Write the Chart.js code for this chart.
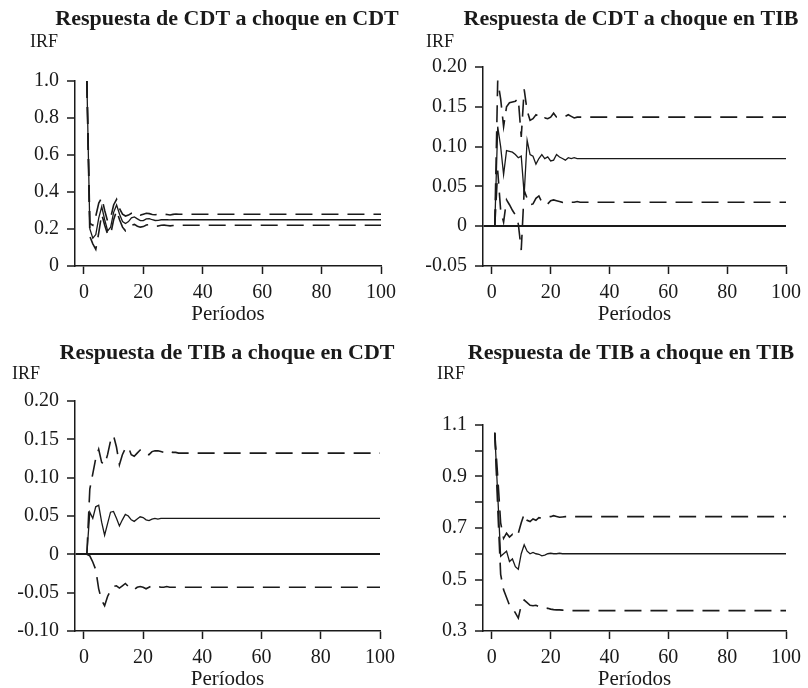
<!DOCTYPE html>
<html>
<head>
<meta charset="utf-8">
<style>
  body { margin: 0; background: #fff; }
  .panel { position: absolute; width: 404px; height: 344px; }
</style>
</head>
<body>
<div class="panel" style="left:0;top:0"><canvas id="c1" width="404" height="344"></canvas></div>
<div class="panel" style="left:404px;top:0"><canvas id="c2" width="404" height="344"></canvas></div>
<div class="panel" style="left:0;top:344px"><canvas id="c3" width="404" height="344"></canvas></div>
<div class="panel" style="left:404px;top:344px"><canvas id="c4" width="404" height="344"></canvas></div>
<script src="https://cdn.jsdelivr.net/npm/chart.js"></script>
<script>
const periods = [1, 2, 3, 4, 5, 6, 7, 8, 9, 10, 11, 12, 13, 14, 15, 16, 17, 18, 19, 20,
  21, 22, 23, 24, 25, 26, 27, 28, 29, 30, 31, 32, 100];
const xTicks = [0, 20, 40, 60, 80, 100];

// Respuesta de CDT a choque en CDT
const cdtCdtUp = [1.0, 0.23, 0.22, 0.27, 0.34, 0.37, 0.30, 0.24, 0.26, 0.33, 0.36, 0.31, 0.28, 0.27, 0.275, 0.285,
  0.29, 0.285, 0.275, 0.28, 0.285, 0.283, 0.278, 0.277, 0.28, 0.282, 0.28, 0.278, 0.276, 0.279, 0.281, 0.28, 0.28];
const cdtCdt = [1.0, 0.20, 0.15, 0.17, 0.26, 0.32, 0.25, 0.19, 0.21, 0.29, 0.33, 0.28, 0.24, 0.23, 0.24, 0.26,
  0.265, 0.255, 0.245, 0.245, 0.255, 0.256, 0.25, 0.246, 0.247, 0.25, 0.251, 0.25, 0.249, 0.25, 0.25, 0.25, 0.25];
const cdtCdtLo = [1.0, 0.16, 0.12, 0.09, 0.18, 0.28, 0.22, 0.17, 0.17, 0.25, 0.30, 0.25, 0.21, 0.19, 0.20, 0.22,
  0.225, 0.215, 0.21, 0.213, 0.222, 0.224, 0.219, 0.215, 0.216, 0.22, 0.221, 0.219, 0.217, 0.219, 0.22, 0.22, 0.22];

// Respuesta de CDT a choque en TIB
const cdtTibUp = [0, 0.183, 0.16, 0.125, 0.15, 0.155, 0.156, 0.157, 0.16, 0.112, 0.172, 0.145, 0.133, 0.135, 0.14, 0.138,
  0.134, 0.136, 0.135, 0.137, 0.142, 0.137, 0.136, 0.137, 0.138, 0.14, 0.138, 0.136, 0.137, 0.137, 0.137, 0.137, 0.137];
const cdtTib = [0, 0.125, 0.10, 0.065, 0.095, 0.094, 0.093, 0.09, 0.086, 0.088, 0.04, 0.108, 0.09, 0.088, 0.078, 0.085,
  0.09, 0.085, 0.087, 0.082, 0.083, 0.09, 0.087, 0.085, 0.083, 0.086, 0.085, 0.086, 0.085, 0.085, 0.085, 0.085, 0.085];
const cdtTibLo = [0, 0.07, 0.02, 0.005, 0.033, 0.027, 0.02, 0.014, 0.003, -0.03, 0.045, 0.035, 0.027, 0.028, 0.035, 0.038,
  0.03, 0.027, 0.028, 0.032, 0.033, 0.032, 0.031, 0.03, 0.031, 0.031, 0.03, 0.03, 0.031, 0.03, 0.03, 0.03, 0.03];

// Respuesta de TIB a choque en CDT
const tibCdtUp = [0, 0.085, 0.105, 0.125, 0.137, 0.12, 0.117, 0.13, 0.148, 0.155, 0.14, 0.117, 0.13, 0.138, 0.14, 0.13,
  0.128, 0.132, 0.136, 0.135, 0.13, 0.13, 0.134, 0.135, 0.135, 0.134, 0.133, 0.135, 0.134, 0.133, 0.133, 0.132, 0.132];
const tibCdt = [0, 0.055, 0.047, 0.062, 0.064, 0.042, 0.025, 0.04, 0.055, 0.056, 0.047, 0.037, 0.045, 0.052, 0.05, 0.045,
  0.043, 0.046, 0.049, 0.048, 0.045, 0.044, 0.046, 0.047, 0.046, 0.047, 0.047, 0.047, 0.047, 0.047, 0.047, 0.047, 0.047];
const tibCdtLo = [0, -0.002, -0.01, -0.02, -0.045, -0.06, -0.067, -0.055, -0.047, -0.042, -0.041, -0.044, -0.041, -0.038, -0.042, -0.046,
  -0.046, -0.043, -0.042, -0.043, -0.045, -0.043, -0.041, -0.042, -0.042, -0.043, -0.043, -0.042, -0.043, -0.043, -0.043, -0.043, -0.043];

// Respuesta de TIB a choque en TIB
const tibTibUp = [1.07, 0.90, 0.72, 0.66, 0.68, 0.665, 0.675, 0.665, 0.68, 0.72, 0.755, 0.73, 0.725, 0.735, 0.73, 0.74,
  0.738, 0.742, 0.745, 0.744, 0.748, 0.745, 0.742, 0.743, 0.744, 0.744, 0.745, 0.744, 0.744, 0.744, 0.744, 0.744, 0.744];
const tibTib = [1.07, 0.83, 0.59, 0.60, 0.61, 0.57, 0.58, 0.55, 0.54, 0.60, 0.635, 0.61, 0.60, 0.605, 0.60, 0.598,
  0.592, 0.595, 0.60, 0.602, 0.60, 0.60, 0.602, 0.60, 0.60, 0.60, 0.60, 0.60, 0.60, 0.60, 0.60, 0.60, 0.60];
const tibTibLo = [1.07, 0.78, 0.52, 0.46, 0.43, 0.40, 0.39, 0.37, 0.35, 0.40, 0.42, 0.41, 0.40, 0.398, 0.40, 0.395,
  0.39, 0.39, 0.388, 0.385, 0.383, 0.382, 0.382, 0.381, 0.38, 0.38, 0.379, 0.379, 0.379, 0.379, 0.379, 0.379, 0.379];

// y tick values and labels per panel
const yTicks1 = [0, 0.2, 0.4, 0.6, 0.8, 1.0];
const yLabels1 = ['0', '0.2', '0.4', '0.6', '0.8', '1.0'];
const yTicks2 = [-0.05, 0, 0.05, 0.10, 0.15, 0.20];
const yLabels2 = ['-0.05', '0', '0.05', '0.10', '0.15', '0.20'];
const yTicks3 = [-0.10, -0.05, 0, 0.05, 0.10, 0.15, 0.20];
const yLabels3 = ['-0.10', '-0.05', '0', '0.05', '0.10', '0.15', '0.20'];
const yTicks4 = [0.3, 0.4, 0.5, 0.6, 0.7, 0.8, 0.9, 1.0, 1.1];
const yLabels4 = ['0.3', '', '0.5', '', '0.7', '', '0.9', '', '1.1'];

const INK = '#1a1a1a';
const FONT = '"Liberation Serif", "Times New Roman", serif';
Chart.defaults.font.family = FONT;
Chart.defaults.color = INK;

// titles, "IRF" and "Períodos"
const panelText = {
  id: 'panelText',
  afterDraw(chart, args, o) {
    const ctx = chart.ctx;
    const a = chart.chartArea;
    ctx.save();
    ctx.fillStyle = INK;
    ctx.textBaseline = 'alphabetic';
    ctx.textAlign = 'center';
    ctx.font = 'bold 22px ' + FONT;
    ctx.fillText(o.title, 227, o.titleY);
    ctx.textAlign = 'left';
    ctx.font = '18px ' + FONT;
    ctx.fillText('IRF', o.irfX, o.irfY);
    ctx.textAlign = 'center';
    ctx.font = '21px ' + FONT;
    ctx.fillText('Períodos', (a.left + a.right) / 2, a.bottom + 54);
    ctx.restore();
  }
};

const panels = [
  { id: 'c1', title: 'Respuesta de CDT a choque en CDT', up: cdtCdtUp, mid: cdtCdt, lo: cdtCdtLo,
    yTicks: yTicks1, yLabels: yLabels1, zero: false, box: { l: 75, r: 381, t: 81, b: 266 },
    titleY: 25, irfX: 30, irfY: 47 },
  { id: 'c2', title: 'Respuesta de CDT a choque en TIB', up: cdtTibUp, mid: cdtTib, lo: cdtTibLo,
    yTicks: yTicks2, yLabels: yLabels2, zero: true, box: { l: 79, r: 384, t: 67, b: 266 },
    titleY: 25, irfX: 22, irfY: 47 },
  { id: 'c3', title: 'Respuesta de TIB a choque en CDT', up: tibCdtUp, mid: tibCdt, lo: tibCdtLo,
    yTicks: yTicks3, yLabels: yLabels3, zero: true, box: { l: 75, r: 380, t: 57, b: 287 },
    titleY: 15, irfX: 12, irfY: 35 },
  { id: 'c4', title: 'Respuesta de TIB a choque en TIB', up: tibTibUp, mid: tibTib, lo: tibTibLo,
    yTicks: yTicks4, yLabels: yLabels4, zero: false, box: { l: 79, r: 384, t: 81, b: 287 },
    titleY: 15, irfX: 33, irfY: 35 }
];

function series(vals, dash, width) {
  return {
    data: periods.map((x, i) => ({ x: x, y: vals[i] })),
    borderColor: INK,
    borderWidth: width,
    borderDash: dash,
    pointRadius: 0,
    tension: 0,
    fill: false
  };
}

panels.forEach(p => {
  const yt = p.yTicks;
  new Chart(document.getElementById(p.id), {
    type: 'line',
    data: { datasets: [series(p.up, [17, 9], 1.6), series(p.mid, [], 1.3), series(p.lo, [17, 9], 1.6)] },
    options: {
      responsive: false,
      animation: false,
      devicePixelRatio: 1,
      layout: { padding: { left: 0, right: 404 - p.box.r, top: p.box.t, bottom: 344 - p.box.b - 40 } },
      plugins: {
        legend: { display: false },
        tooltip: { enabled: false },
        panelText: { title: p.title, titleY: p.titleY, irfX: p.irfX, irfY: p.irfY }
      },
      scales: {
        x: {
          type: 'linear', min: -3, max: 100,
          afterBuildTicks: s => { s.ticks = xTicks.map(v => ({ value: v })); },
          afterFit: s => { s.height = 40; },
          grid: { drawOnChartArea: false, tickLength: 8, tickColor: INK, tickWidth: 1.5 },
          border: { color: INK, width: 1.5 },
          ticks: { color: INK, font: { size: 20 }, padding: 7, maxRotation: 0, autoSkip: false,
                   callback: v => String(v) }
        },
        y: {
          type: 'linear', min: yt[0], max: yt[yt.length - 1],
          afterBuildTicks: s => { s.ticks = yt.map(v => ({ value: v })); },
          afterFit: s => { s.width = p.box.l; },
          grid: {
            drawOnChartArea: p.zero,
            color: c => (c.tick && c.tick.value === 0) ? INK : 'rgba(0,0,0,0)',
            lineWidth: 2, tickLength: 8, tickColor: INK, tickWidth: 1.5
          },
          border: { color: INK, width: 1.5 },
          ticks: { color: INK, font: { size: 20 }, padding: 8, autoSkip: false,
                   callback: (v, i) => p.yLabels[i] }
        }
      }
    },
    plugins: [panelText]
  });
});
</script>
</body>
</html>
